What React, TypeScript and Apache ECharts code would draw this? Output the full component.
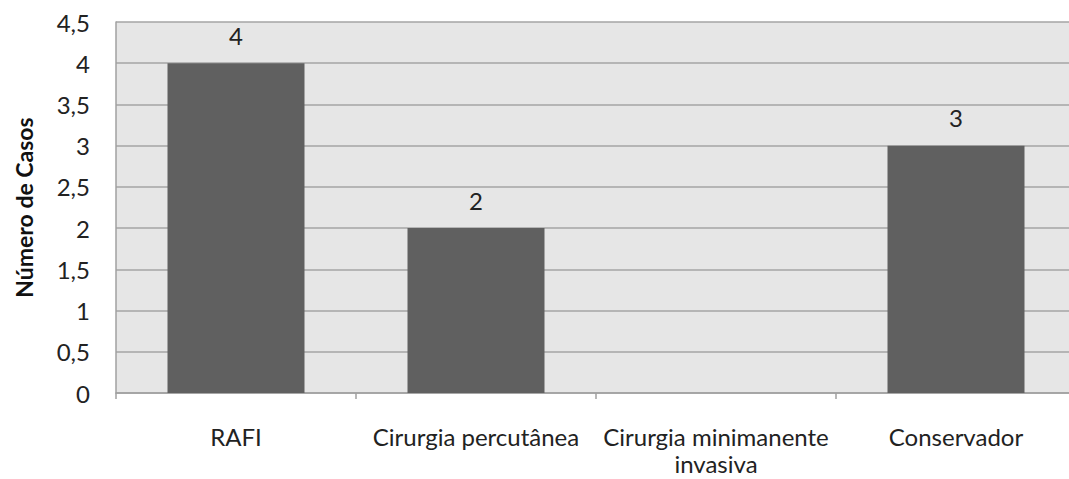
import React, { useEffect, useRef } from "react";
import * as echarts from "echarts";

const categories = [
  "RAFI",
  "Cirurgia percutânea",
  "Cirurgia minimanente\ninvasiva",
  "Conservador",
];
const casos: (number | null)[] = [4, 2, null, 3];
const yMin = 0;
const yMax = 4.5;
const yStep = 0.5;

const FONT = "Lato, 'Open Sans', sans-serif";

export default function App() {
  const ref = useRef<HTMLDivElement>(null);

  useEffect(() => {
    if (!ref.current) return;
    const chart = echarts.init(ref.current, null, { renderer: "svg" });
    chart.setOption({
      animation: false,
      backgroundColor: "#ffffff",
      grid: {
        left: 116,
        top: 22,
        width: 960,
        height: 371,
        outerBoundsMode: "none",
        containLabel: false,
        show: true,
        backgroundColor: "#e6e6e6",
        borderWidth: 0,
      },
      xAxis: {
        type: "category",
        data: categories,
        axisLine: { show: true, lineStyle: { color: "#a0a0a0", width: 1.5 } },
        axisTick: {
          show: true,
          length: 6,
          alignWithLabel: false,
          lineStyle: { color: "#a0a0a0", width: 1.5 },
        },
        axisLabel: {
          margin: 30,
          color: "#222222",
          fontFamily: FONT,
          fontSize: 24,
          lineHeight: 27,
          interval: 0,
        },
      },
      yAxis: {
        type: "value",
        min: yMin,
        max: yMax,
        interval: yStep,
        name: "Número de Casos",
        nameLocation: "middle",
        nameGap: 81,
        nameTextStyle: {
          fontFamily: FONT,
          fontSize: 23,
          fontWeight: "bold",
          color: "#111111",
        },
        axisLine: { show: true, lineStyle: { color: "#a0a0a0", width: 1.5 } },
        axisTick: { show: false },
        splitLine: { show: true, lineStyle: { color: "#a4a4a4", width: 1.5 } },
        axisLabel: {
          margin: 26,
          color: "#222222",
          fontFamily: FONT,
          fontSize: 24,
          formatter: (v: number) => String(v).replace(".", ","),
        },
      },
      series: [
        {
          type: "bar",
          data: casos,
          barWidth: 137,
          itemStyle: { color: "#606060" },
          label: {
            show: true,
            position: "top",
            distance: 16,
            color: "#222222",
            fontFamily: FONT,
            fontSize: 24,
          },
        },
      ],
    });
    return () => chart.dispose();
  }, []);

  return (
    <div
      ref={ref}
      style={{ position: "fixed", left: 0, top: 0, width: 1069, height: 479 }}
    />
  );
}
